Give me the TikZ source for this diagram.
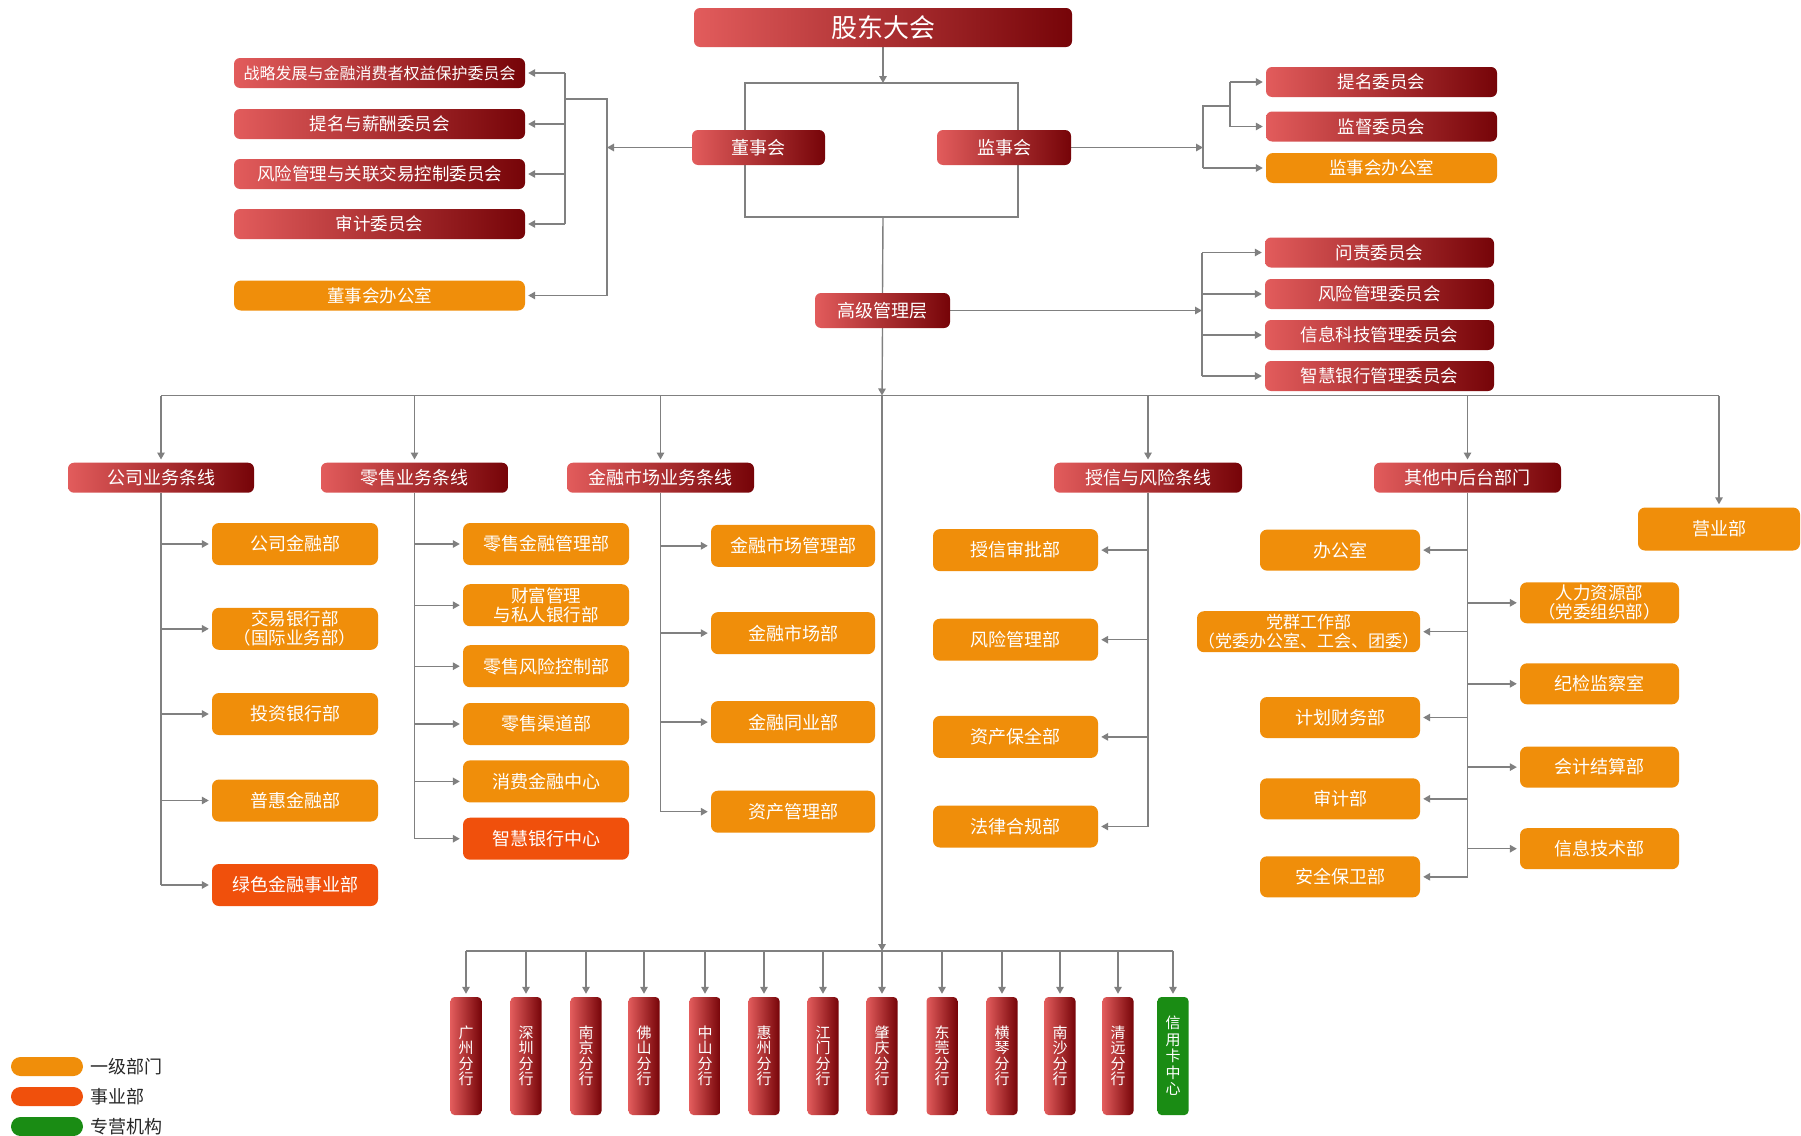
\documentclass[tikz,border=0pt]{standalone}
\usepackage{fontspec}
\setmainfont{Noto Sans CJK SC}
\usetikzlibrary{arrows.meta,backgrounds}
\definecolor{redL}{RGB}{226,92,92}
\definecolor{redD}{RGB}{118,4,8}
\definecolor{orng}{RGB}{240,142,10}
\definecolor{rorg}{RGB}{240,80,12}
\definecolor{grn}{RGB}{26,140,20}
\definecolor{lineg}{RGB}{128,128,128}
\definecolor{txtg}{RGB}{40,40,40}
\pgfdeclarelayer{bgzero}
\pgfsetlayers{bgzero,background,main}
\tikzset{
 base/.style={inner sep=0pt, text=white, align=center},
 rbox/.style={base, rounded corners=6pt, left color=redL, right color=redD},
 obox/.style={base, rounded corners=7pt, fill=orng},
 ebox/.style={base, rounded corners=7pt, fill=rorg},
 vbox/.style={base, rounded corners=4pt, left color=redL, right color=redD, minimum width=31pt, minimum height=118pt, font=\fontsize{15}{15.5}\selectfont},
 ln/.style={draw=lineg, line width=1.4pt},
 arr/.style={ln, -{Triangle[length=7pt,width=7.5pt]}, shorten >=3pt},
 arrz/.style={ln, -{Triangle[length=7pt,width=7.5pt]}},
 fA/.style={font=\fontsize{18}{20}\selectfont},
 fC/.style={font=\fontsize{17.5}{20}\selectfont},
 fB/.style={font=\fontsize{16}{18.5}\selectfont},
 fT/.style={font=\fontsize{17.5}{19}\selectfont},
 fO/.style={font=\fontsize{17}{19}\selectfont},
 cw/.style={minimum width=291pt, minimum height=30pt},
 sw/.style={minimum width=231pt, minimum height=30pt},
 mw/.style={minimum width=229pt, minimum height=30pt},
 kw/.style={minimum width=187pt, minimum height=30pt, fA},
 aw/.style={minimum width=166pt, minimum height=42pt, fA},
 fw/.style={minimum width=164pt, minimum height=42pt, fA},
 xw/.style={minimum width=165pt, minimum height=42pt, fA},
 ow/.style={minimum width=160pt, minimum height=41pt, fA},
 pw/.style={minimum width=159pt, minimum height=41pt, fA},
 lgd/.style={inner sep=0pt, rounded corners=9.5pt, minimum width=72pt, minimum height=19pt},
 lgt/.style={anchor=west, inner sep=0pt, text=txtg, fA},
}
\begin{document}
\begin{tikzpicture}[x=1pt,y=-1pt]
\useasboundingbox (0,0) rectangle (1801,1135);
\begin{pgfonlayer}{bgzero}
\fill[white] (0,0) rectangle (1801,1135);
\end{pgfonlayer}

% top level
\node[rbox,font=\fontsize{26}{28}\selectfont,minimum width=378pt,minimum height=39pt] (gd) at (883,27.5) {股东大会};
\node[rbox,fA,minimum width=133pt,minimum height=35pt] (dsh) at (758.5,147.5) {董事会};
\node[rbox,fA,minimum width=134pt,minimum height=35pt] (jsh) at (1004,147.5) {监事会};
\node[rbox,fA,minimum width=135pt,minimum height=35pt] (gj) at (882.5,310.5) {高级管理层};

% board committees
\node[rbox,cw,fB] (c1) at (379.5,73) {战略发展与金融消费者权益保护委员会};
\node[rbox,cw,fC] (c2) at (379.5,124) {提名与薪酬委员会};
\node[rbox,cw,fC] (c3) at (379.5,174) {风险管理与关联交易控制委员会};
\node[rbox,cw,fC] (c4) at (379.5,224) {审计委员会};
\node[obox,cw,fC] (c5) at (379.5,295.5) {董事会办公室};

% supervisory committees
\node[rbox,sw,fC] (s1) at (1381.5,82) {提名委员会};
\node[rbox,sw,fC] (s2) at (1381.5,126.5) {监督委员会};
\node[obox,sw,fC] (s3) at (1381.5,168) {监事会办公室};

% senior management committees
\node[rbox,mw,fC] (m1) at (1379.5,252.5) {问责委员会};
\node[rbox,mw,fC] (m2) at (1379.5,294) {风险管理委员会};
\node[rbox,mw,fC] (m3) at (1379.5,335) {信息科技管理委员会};
\node[rbox,mw,fC] (m4) at (1379.5,376) {智慧银行管理委员会};

% business lines
\node[rbox,kw,minimum width=186pt] (k1) at (161,477.7) {公司业务条线};
\node[rbox,kw] (k2) at (414.5,477.7) {零售业务条线};
\node[rbox,kw] (k3) at (660.5,477.7) {金融市场业务条线};
\node[rbox,kw,minimum width=188pt] (k4) at (1148,477.7) {授信与风险条线};
\node[rbox,kw] (k5) at (1467.5,477.7) {其他中后台部门};
\node[obox,fA,minimum width=162pt,minimum height=43pt] (yyb) at (1719,529) {营业部};

% corporate
\node[obox,aw] (a1) at (295,544) {公司金融部};
\node[obox,aw,fT] (a2) at (295,628.8) {交易银行部\\（国际业务部）};
\node[obox,aw] (a3) at (295,714) {投资银行部};
\node[obox,aw] (a4) at (295,800.5) {普惠金融部};
\node[ebox,aw] (a5) at (295,885) {绿色金融事业部};

% retail
\node[obox,aw] (r1) at (546,544) {零售金融管理部};
\node[obox,aw,fT] (r2) at (546,605.2) {财富管理\\与私人银行部};
\node[obox,aw] (r3) at (546,666.2) {零售风险控制部};
\node[obox,aw] (r4) at (546,724) {零售渠道部};
\node[obox,aw] (r5) at (546,781.4) {消费金融中心};
\node[ebox,aw] (r6) at (546,838.7) {智慧银行中心};

% financial markets
\node[obox,fw] (f1) at (793,545.8) {金融市场管理部};
\node[obox,fw] (f2) at (793,633.1) {金融市场部};
\node[obox,fw] (f3) at (793,722.1) {金融同业部};
\node[obox,fw] (f4) at (793,811.7) {资产管理部};

% credit and risk
\node[obox,xw] (x1) at (1015.5,550.1) {授信审批部};
\node[obox,xw] (x2) at (1015.5,639.7) {风险管理部};
\node[obox,xw] (x3) at (1015.5,736.9) {资产保全部};
\node[obox,xw] (x4) at (1015.5,826.5) {法律合规部};

% other
\node[obox,ow] (o1) at (1340,550.1) {办公室};
\node[obox,ow,fO,minimum width=223pt] (o2) at (1308.5,631.7) {党群工作部\\（党委办公室、工会、团委）};
\node[obox,ow] (o3) at (1340,717.5) {计划财务部};
\node[obox,ow] (o4) at (1340,798.8) {审计部};
\node[obox,ow] (o5) at (1340,876.8) {安全保卫部};
\node[obox,pw,fT] (p1) at (1599.5,602.8) {人力资源部\\（党委组织部）};
\node[obox,pw] (p2) at (1599.5,683.8) {纪检监察室};
\node[obox,pw] (p3) at (1599.5,767.1) {会计结算部};
\node[obox,pw] (p4) at (1599.5,848.7) {信息技术部};

% branches
\node[vbox] (b1) at (466,1056) {广\\州\\分\\行};
\node[vbox] (b2) at (526,1056) {深\\圳\\分\\行};
\node[vbox] (b3) at (586,1056) {南\\京\\分\\行};
\node[vbox] (b4) at (644,1056) {佛\\山\\分\\行};
\node[vbox] (b5) at (705,1056) {中\\山\\分\\行};
\node[vbox] (b6) at (764,1056) {惠\\州\\分\\行};
\node[vbox] (b7) at (823,1056) {江\\门\\分\\行};
\node[vbox] (b8) at (882,1056) {肇\\庆\\分\\行};
\node[vbox] (b9) at (942,1056) {东\\莞\\分\\行};
\node[vbox] (b10) at (1002,1056) {横\\琴\\分\\行};
\node[vbox] (b11) at (1060,1056) {南\\沙\\分\\行};
\node[vbox] (b12) at (1118,1056) {清\\远\\分\\行};
\node[vbox,left color=grn,right color=grn,font=\fontsize{15}{16.5}\selectfont] (b13) at (1173,1056) {信\\用\\卡\\中\\心};

% legend
\node[lgd,fill=orng] (lg1) at (47,1066.5) {};
\node[lgd,fill=rorg] (lg2) at (47,1096.5) {};
\node[lgd,fill=grn] (lg3) at (47,1126.5) {};
\node[lgt] (lt1) at ([xshift=7pt]lg1.east) {一级部门};
\node[lgt] (lt2) at ([xshift=7pt]lg2.east) {事业部};
\node[lgt] (lt3) at ([xshift=7pt]lg3.east) {专营机构};

% connectors
\begin{pgfonlayer}{background}
\coordinate (bl) at (745,83);
\coordinate (br) at (1018,217);
\draw[ln] (bl) rectangle (br);
\draw[arrz] (gd) -- (gd.south |- bl);
\draw[ln] (gd.south |- br) -- (gj.north);
\coordinate (mb) at (882,395.5);
\coordinate (bb) at (882,951);
\draw[arrz] (gj.south) -- (mb);
\draw[arrz] (mb) -- (bb);

% board side
\coordinate (jL1) at (607,99);
\coordinate (jL2) at (565,99);
\draw[arrz] (dsh.west) -- (jL1 |- dsh.west);
\draw[ln] (jL1 |- c5) -- (jL1) -- (jL2);
\draw[ln] (jL2 |- c1) -- (jL2 |- c4);
\foreach \c in {c1,c2,c3,c4} \draw[arr] (jL2 |- \c) -- (\c.east);
\draw[arr] (jL1 |- c5) -- (c5.east);

% supervisory side
\coordinate (jR1) at (1203,106);
\coordinate (jR2) at (1230,106);
\draw[arrz] (jsh.east) -- (jR1 |- jsh.east);
\draw[ln] (jR1 |- s3) -- (jR1) -- (jR2);
\draw[ln] (jR2 |- s1) -- (jR2 |- s2);
\draw[arr] (jR2 |- s1) -- (s1.west);
\draw[arr] (jR2 |- s2) -- (s2.west);
\draw[arr] (jR1 |- s3) -- (s3.west);

% senior management side
\coordinate (jM) at (1202,311);
\draw[arrz] (gj.east) -- (jM |- gj.east);
\draw[ln] (jM |- m1) -- (jM |- m4);
\foreach \m in {m1,m2,m3,m4} \draw[arr] (jM |- \m) -- (\m.west);

% main bar
\draw[ln] (k1.north |- mb) -- (yyb.north |- mb);
\foreach \k in {k1,k2,k3,k4,k5,yyb} \draw[arr] (\k.north |- mb) -- (\k.north);

% corporate
\draw[ln] (k1.south) -- (k1.south |- a5);
\foreach \a in {a1,a2,a3,a4,a5} \draw[arr] (k1.south |- \a) -- (\a.west);
% retail
\draw[ln] (k2.south) -- (k2.south |- r6);
\foreach \a in {r1,r2,r3,r4,r5,r6} \draw[arr] (k2.south |- \a) -- (\a.west);
% financial markets
\draw[ln] (k3.south) -- (k3.south |- f4);
\foreach \a in {f1,f2,f3,f4} \draw[arr] (k3.south |- \a) -- (\a.west);
% credit
\draw[ln] (k4.south) -- (k4.south |- x4);
\foreach \a in {x1,x2,x3,x4} \draw[arr] (k4.south |- \a) -- (\a.east);
% other
\draw[ln] (k5.south) -- (k5.south |- o5);
\foreach \a in {o1,o2,o3,o4,o5} \draw[arr] (k5.south |- \a) -- (\a.east);
\foreach \a in {p1,p2,p3,p4} \draw[arr] (k5.south |- \a) -- (\a.west);

% branches
\draw[ln] (b1.north |- bb) -- (b13.north |- bb);
\foreach \b in {b1,b2,b3,b4,b5,b6,b7,b8,b9,b10,b11,b12,b13} \draw[arr] (\b.north |- bb) -- (\b.north);
\end{pgfonlayer}
\end{tikzpicture}
\end{document}
